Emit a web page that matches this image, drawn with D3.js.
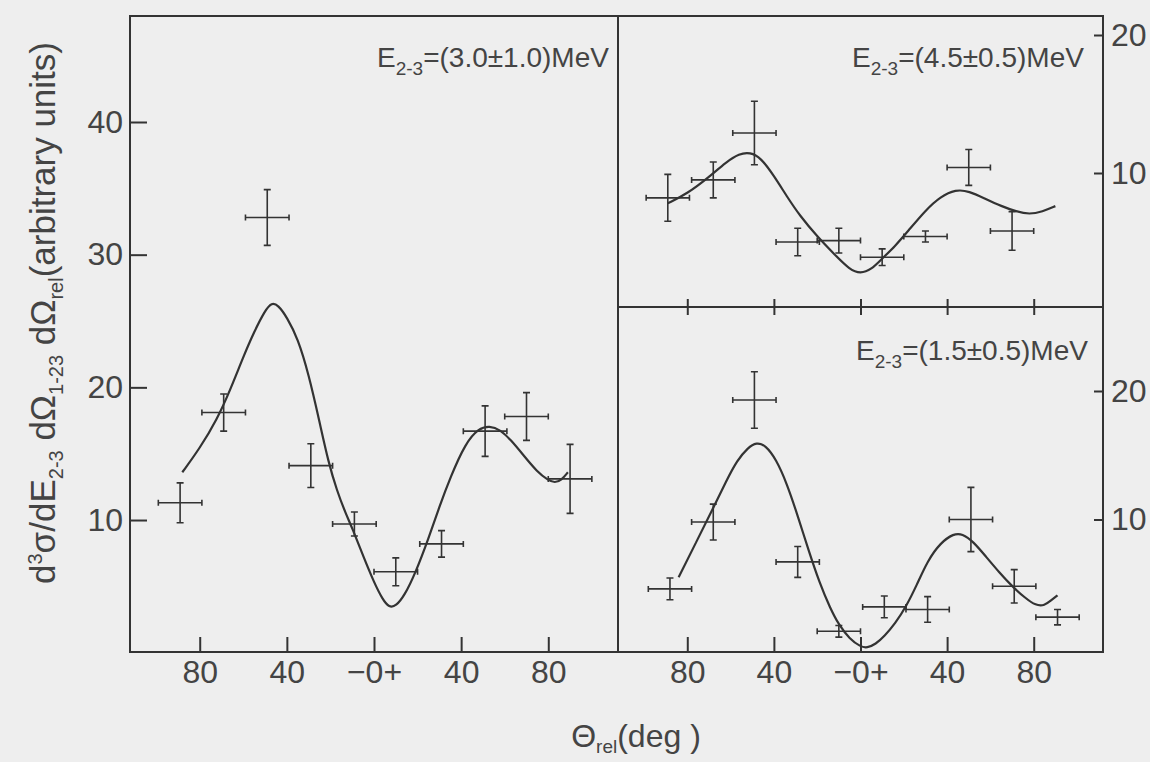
<!DOCTYPE html>
<html>
<head>
<meta charset="utf-8">
<script src="https://cdn.jsdelivr.net/npm/d3@7"></script>
<style>
  body { margin: 0; background: #eeeeee; }
  svg { display: block; }
  text { font-family: "Liberation Sans", Arial, sans-serif; fill: #444; }
</style>
</head>
<body>
<svg id="chart" width="1150" height="762"></svg>
<script>
var leftAngles = [-89, -69, -49, -29, -9, 10, 31, 51, 70, 90]
var leftValues = [11.3, 18.1, 32.8, 14.1, 9.7, 6.1, 8.2, 16.7, 17.8, 13.1]
var leftErrors = [1.5, 1.4, 2.1, 1.65, 0.9, 1.05, 1.0, 1.9, 1.8, 2.6]
var leftFitAngles = [-88, -80, -72, -66, -60, -55, -50, -47, -44, -40, -35, -30, -25, -21, -17, -13, -10, -5, 0, 4, 7, 10, 14, 19, 25, 30, 35, 42, 48, 53, 58, 63, 68, 75, 80, 83, 86, 89]
var leftFitValues = [13.6, 15.4, 17.6, 19.8, 22.3, 24.2, 25.8, 26.4, 26.2, 25.3, 23.7, 21.0, 17.4, 14.4, 12.2, 10.5, 9.4, 7.3, 5.3, 4.0, 3.4, 3.5, 4.3, 6.0, 8.6, 11.0, 13.2, 15.8, 16.9, 17.1, 16.8, 16.0, 15.0, 13.6, 13.0, 12.8, 13.0, 13.6]

var topAngles = [-89, -68, -49, -29, -10, 10, 30, 50, 70]
var topValues = [8.2, 9.5, 12.9, 5.0, 5.1, 3.9, 5.4, 10.4, 5.8]
var topErrors = [1.7, 1.3, 2.3, 1.0, 0.9, 0.6, 0.4, 1.3, 1.4]
var topFitAngles = [-89, -80, -70, -62, -56, -51, -46, -40, -34, -28, -20, -12, -5, 0, 5, 10, 16, 22, 30, 37, 44, 50, 58, 65, 72, 78, 84, 90]
var topFitValues = [7.8, 8.5, 9.7, 10.8, 11.4, 11.5, 11.1, 9.8, 8.3, 6.9, 5.4, 4.1, 3.0, 2.7, 3.0, 3.8, 4.7, 5.8, 7.3, 8.3, 8.8, 8.7, 8.1, 7.6, 7.2, 7.0, 7.2, 7.6]

var bottomAngles = [-88, -68, -49, -29, -10, 11, 31, 51, 71, 91]
var bottomValues = [4.6, 9.8, 19.3, 6.7, 1.3, 3.2, 3.0, 10.0, 4.8, 2.4]
var bottomErrors = [0.85, 1.4, 2.2, 1.2, 0.45, 0.85, 1.0, 2.5, 1.3, 0.6]
var bottomFitAngles = [-84, -76, -68, -62, -57, -52, -48, -44, -39, -34, -29, -24, -19, -14, -10, -5, 0, 3, 7, 11, 16, 21, 26, 31, 37, 43, 47, 52, 58, 64, 70, 76, 81, 85, 88, 91]
var bottomFitValues = [5.5, 8.2, 10.9, 13.0, 14.6, 15.6, 16.0, 15.8, 14.7, 12.8, 10.3, 7.6, 5.1, 3.1, 1.8, 0.7, 0.1, 0.0, 0.3, 0.9, 1.9, 3.2, 4.9, 6.8, 8.2, 8.9, 8.9, 8.3, 7.1, 5.9, 4.8, 3.9, 3.3, 3.3, 3.7, 4.1]

var binHalfWidth = 10
var xTicks = [-80, -40, 0, 40, 80]
var xTickLabels = ["80", "40", "\u22120+", "40", "80"]
var leftYTicks = [10, 20, 30, 40]
var rightYTicks = [10, 20]

var frame = { left: 130, right: 1103, top: 16, bottom: 652, midX: 618, midY: 307 }
var ink = "#333"

var svg = d3.select("#chart")

var xLeft = d3.scaleLinear().domain([-112, 112]).range([frame.left, frame.midX])
var xRight = d3.scaleLinear().domain([-112, 112]).range([frame.midX, frame.right])
var yLeft = d3.scaleLinear().domain([0, 40]).range([652.7, 122])
var yTop = d3.scaleLinear().domain([0, 20]).range([311, 35])
var yBottom = d3.scaleLinear().domain([0, 20]).range([648, 391])

var panels = [
  { x: xLeft, y: yLeft, angles: leftAngles, values: leftValues, errors: leftErrors,
    fitA: leftFitAngles, fitV: leftFitValues, label: "=(3.0\u00b11.0)MeV", lx: 377, ly: 67 },
  { x: xRight, y: yTop, angles: topAngles, values: topValues, errors: topErrors,
    fitA: topFitAngles, fitV: topFitValues, label: "=(4.5\u00b10.5)MeV", lx: 852, ly: 67 },
  { x: xRight, y: yBottom, angles: bottomAngles, values: bottomValues, errors: bottomErrors,
    fitA: bottomFitAngles, fitV: bottomFitValues, label: "=(1.5\u00b10.5)MeV", lx: 856, ly: 360 }
]

// frame and dividers
svg.append("path")
  .attr("d", `M${frame.left},${frame.top}H${frame.right}V${frame.bottom}H${frame.left}Z`
    + `M${frame.midX},${frame.top}V${frame.bottom}M${frame.midX},${frame.midY}H${frame.right}`)
  .attr("fill", "none")
  .attr("stroke", ink)
  .attr("stroke-width", 2)

function styleAxis(g){
  g.select(".domain").remove()
  g.selectAll(".tick line").attr("stroke", ink).attr("stroke-width", 2)
  g.selectAll(".tick text").attr("fill", "#444").style("font-size", "32px")
    .style("font-family", '"Liberation Sans", Arial, sans-serif')
}

// bottom axes (ticks point inward)
;[xLeft, xRight].forEach(function(x){
  svg.append("g")
    .attr("transform", `translate(0,${frame.bottom})`)
    .call(d3.axisBottom(x).tickValues(xTicks).tickSize(-15).tickPadding(8)
      .tickFormat(function(d, i){ return xTickLabels[i] }))
    .call(styleAxis)
})

// ticks across the divider between the two right panels
svg.append("g")
  .attr("transform", `translate(0,${frame.midY - 8})`)
  .call(d3.axisBottom(xRight).tickValues(xTicks).tickSize(16).tickFormat(""))
  .call(styleAxis)

svg.append("g")
  .attr("transform", `translate(${frame.left},0)`)
  .call(d3.axisLeft(yLeft).tickValues(leftYTicks).tickSize(-17).tickPadding(7))
  .call(styleAxis)

;[yTop, yBottom].forEach(function(y){
  svg.append("g")
    .attr("transform", `translate(${frame.right},0)`)
    .call(d3.axisRight(y).tickValues(rightYTicks).tickSize(-9).tickPadding(8))
    .call(styleAxis)
})

panels.forEach(function(p){
  var g = svg.append("g")
  var line = d3.line()
    .x(function(d, i){ return p.x(p.fitA[i]) })
    .y(function(d){ return p.y(d) })
    .curve(d3.curveBasis)

  g.append("path")
    .datum(p.fitV)
    .attr("d", line)
    .attr("fill", "none")
    .attr("stroke", ink)
    .attr("stroke-width", 2.2)

  var pts = g.selectAll("g.pt")
    .data(p.values)
    .enter()
    .append("g")
      .attr("class", "pt")
      .attr("stroke", ink)
      .attr("stroke-width", 1.6)

  pts.append("path")
    .attr("d", function(d, i){
      var a = p.angles[i], e = p.errors[i]
      var cx = p.x(a), cy = p.y(d)
      var y1 = p.y(d + e), y2 = p.y(d - e)
      var x1 = p.x(a - binHalfWidth), x2 = p.x(a + binHalfWidth)
      return `M${cx},${y1}V${y2}M${x1},${cy}H${x2}`
        + `M${cx - 3.5},${y1}h7M${cx - 3.5},${y2}h7`
        + `M${x1},${cy - 3}v6M${x2},${cy - 3}v6`
    })
    .attr("fill", "none")

  var t = g.append("text")
    .attr("x", p.lx)
    .attr("y", p.ly)
    .style("font-size", "28px")
  t.append("tspan").text("E")
  t.append("tspan").attr("dy", 8).style("font-size", "19px").text("2-3")
  t.append("tspan").attr("dy", -8).text(p.label)
})

// axis titles
var yt = svg.append("text")
  .attr("transform", "translate(55,313) rotate(-90)")
  .attr("text-anchor", "middle")
  .style("font-size", "35px")
yt.append("tspan").text("d")
yt.append("tspan").attr("dy", -13).style("font-size", "20px").text("3")
yt.append("tspan").attr("dy", 13).text("\u03c3/dE")
yt.append("tspan").attr("dy", 8).style("font-size", "20px").text("2-3")
yt.append("tspan").attr("dy", -8).text(" d\u03a9")
yt.append("tspan").attr("dy", 8).style("font-size", "20px").text("1-23")
yt.append("tspan").attr("dy", -8).text(" d\u03a9")
yt.append("tspan").attr("dy", 8).style("font-size", "20px").text("rel")
yt.append("tspan").attr("dy", -8).text("(arbitrary units)")

var xt = svg.append("text")
  .attr("x", 636)
  .attr("y", 747)
  .attr("text-anchor", "middle")
  .style("font-size", "32px")
xt.append("tspan").text("\u0398")
xt.append("tspan").attr("dy", 6).style("font-size", "19px").text("rel")
xt.append("tspan").attr("dy", -6).text("(deg )")
</script>
</body>
</html>
